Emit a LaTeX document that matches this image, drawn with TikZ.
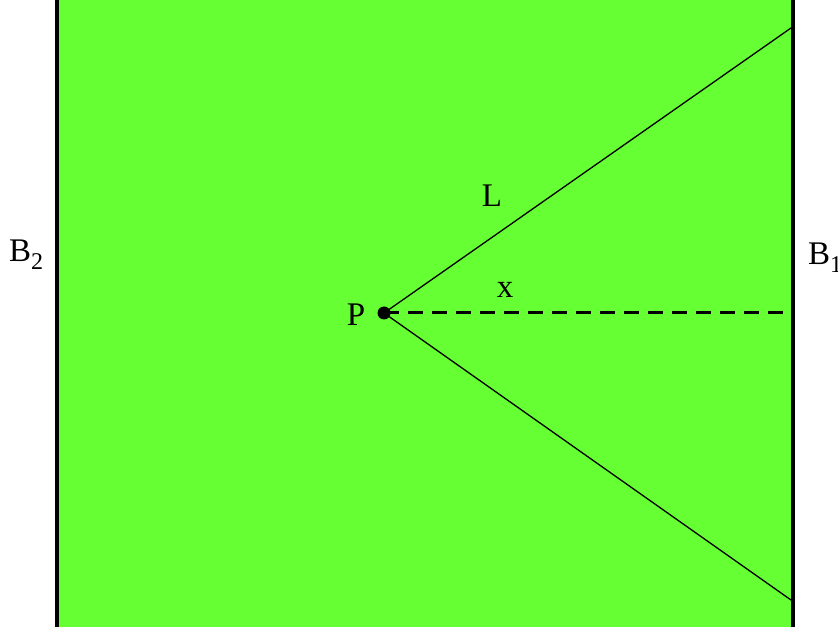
\documentclass[tikz,border=0pt]{standalone}
\usepackage{fontspec}
\setmainfont{Liberation Serif}
\usetikzlibrary{positioning,calc}
\definecolor{fieldgreen}{RGB}{102,255,51}
\tikzset{
  wall/.style={line width=4pt},
  ray/.style={line width=1.3pt},
  lab/.style={inner sep=0pt,font=\fontsize{33}{40}\selectfont},
}
\newcommand{\bsub}[1]{B\raisebox{-8pt}{\fontsize{24}{28}\selectfont #1}}

\begin{document}
\begin{tikzpicture}[x=1pt,y=1pt]
  \useasboundingbox (0,0) rectangle (838,627);
  \fill[fieldgreen] (57,0) rectangle (793,627);
  \draw[wall] (57,0) -- (57,627); \draw[wall] (793,0) -- (793,627);
  % point P and the three ends on the right wall
  \node[circle,fill,inner sep=0pt,minimum size=13pt] (P) at (384,314) {};
  \coordinate (top) at (791,599);
  \coordinate (mid) at (791,314);
  \coordinate (bot) at (791,27);
  \draw[ray] (P.center) -- (top);
  \draw[ray] (P.center) -- (bot);
  \draw[line width=3pt,dash pattern=on 15pt off 9pt] (P.center) -- (mid);
  \node[lab] (Plab) at (356,312) {P};
  \node[lab] (Llab) at (492,431) {L};
  \node[lab] (xlab) at (505,337) {x};
  \node[lab,anchor=west] (B2) at (9,372) {\bsub{2}};
  \node[lab,anchor=west] (B1) at (808,369) {\bsub{1}};
\end{tikzpicture}
\end{document}
